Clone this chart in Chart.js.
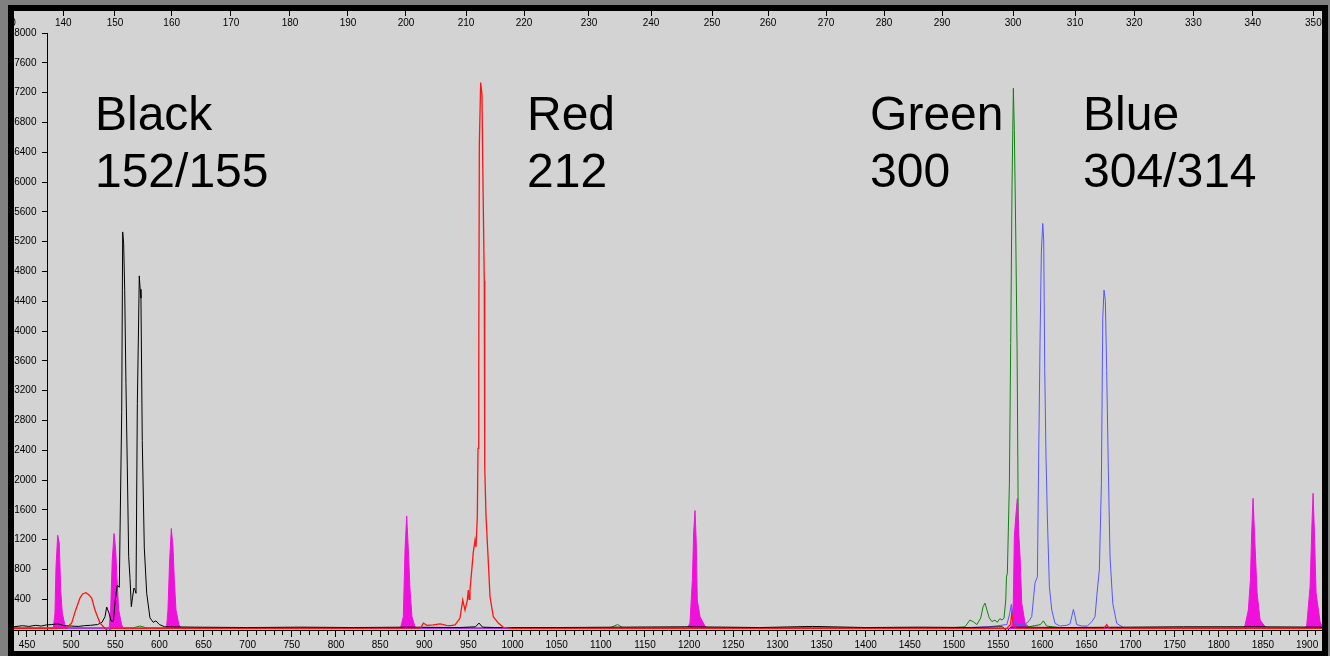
<!DOCTYPE html>
<html>
<head>
<meta charset="utf-8">
<title>Electropherogram</title>
<script src="https://cdn.jsdelivr.net/npm/chart.js@4.4.1/dist/chart.umd.min.js"></script>
<style>
  html, body { margin: 0; padding: 0; }
  body { width: 1330px; height: 656px; background: #808080; overflow: hidden; position: relative; }
  #frame {
    position: absolute; left: 8px; top: 5px;
    width: 1308px; height: 640px;
    border: 6px solid #000;
    background: #d3d3d3;
  }
  #trace { display: block; }
</style>
</head>
<body>
<div id="frame"><canvas id="trace" width="1308" height="640"></canvas></div>
<script>
// scan range shown and size ladder on the top axis
const scanMin = 435.3;
const scanMax = 1916.9;
const sizeLabels = [130, 140, 150, 160, 170, 180, 190, 200, 210, 220, 230, 240, 250, 260, 270, 280, 290, 300, 310, 320, 330, 340, 350];
const sizeScans = [428, 491.1, 549.7, 613.9, 681.1, 747.9, 813.6, 879.3, 947.3, 1013.0, 1086.6, 1156.9, 1226.0, 1289.4, 1355.1, 1420.8, 1486.5, 1566.9, 1637.2, 1704.3, 1771.2, 1838.5, 1907.1];

// peak captions
const peakNames = ["Black", "Red", "Green", "Blue"];
const peakSizes = ["152/155", "212", "300", "304/314"];
const labelScans = [527, 1016.4, 1405, 1646.2];

// black dye
const blackScan = [435, 445, 452, 460, 466, 472, 478, 485, 492, 500, 508, 515, 522, 530, 535, 538.4, 540.3, 542.9, 545.2, 547.8, 550, 552.3, 554.6, 555.4, 557.3, 558.4, 559.5, 560.7, 562.1, 563.6, 565.2, 566.7, 568.2, 569.5, 571.2, 572.5, 573.5, 575, 576.3, 577.2, 578.2, 579.1, 580.6, 582.9, 585.6, 589.3, 593, 596, 600, 606, 640, 700, 760, 820, 880, 940, 958, 962, 966, 980, 1050, 1120, 1200, 1280, 1340, 1400, 1460, 1520, 1555, 1560, 1564, 1575, 1620, 1700, 1760, 1840, 1917];
const blackRfu = [30, 45, 35, 50, 40, 55, 60, 70, 45, 40, 35, 45, 50, 60, 90, 165, 295, 214, 110, 100, 389, 590, 560, 1290, 2910, 5330, 5180, 4540, 3300, 2200, 970, 680, 300, 420, 550, 520, 480, 3030, 4000, 4740, 4560, 4440, 2530, 1090, 480, 150, 90, 110, 60, 30, 25, 20, 25, 20, 25, 20, 30, 80, 25, 20, 20, 25, 30, 20, 35, 20, 25, 20, 30, -30, 20, 25, 20, 25, 30, 30, 25];

// red dye
const redScan = [435, 480, 495, 500.6, 505, 510, 513, 516.8, 520, 523.3, 527, 532.7, 538, 542, 546, 600, 700, 800, 890, 896, 899, 903, 910, 918, 925, 930, 935, 940.5, 943.6, 946.2, 948.8, 949.9, 950.8, 951.8, 953.8, 955.6, 957.5, 958.6, 960.1, 960.9, 961.7, 962.4, 963.9, 965.4, 966.2, 968.0, 968.5, 970.0, 971.9, 974.5, 978.2, 983.9, 989.6, 1000, 1200, 1400, 1560, 1564, 1565.5, 1567, 1570, 1670, 1673, 1676, 1917];
const redRfu = [10, 10, 15, 80, 250, 415, 470, 487, 460, 415, 255, 80, 13, -25, 10, 10, 10, 10, 12, 15, 80, 50, 55, 70, 50, 45, 55, 147, 389, 255, 389, 523, 400, 523, 790, 1036, 1190, 1100, 1500, 2425, 3470, 6500, 7334, 7178, 6285, 4677, 2170, 1505, 1058, 433, 165, 80, 23, 10, 10, 10, 10, 60, 214, 80, 10, 10, 60, 10, 10];

// green dye
const greenScan = [435, 570, 578, 586, 700, 1110, 1119, 1125, 1500, 1512.6, 1518, 1522, 1526, 1530.3, 1533, 1535.2, 1537.5, 1540, 1543, 1546.5, 1549, 1552, 1554.5, 1556.7, 1558.7, 1559.5, 1560.5, 1562.8, 1564.3, 1565.8, 1567.3, 1568.4, 1570, 1571.5, 1572.8, 1574.2, 1576, 1578.6, 1585, 1598, 1601.3, 1605, 1620, 1917];
const greenRfu = [15, 15, 40, 15, 15, 15, 60, 15, 20, 30, 120, 98, 60, 147, 300, 348, 250, 150, 100, 120, 90, 140, 120, 147, 390, 700, 750, 1956, 3830, 5950, 7258, 6690, 5315, 3775, 1500, 400, 200, 80, 30, 60, 110, 40, 20, 15];

// blue dye
const blueScan = [435, 1500, 1540, 1560, 1563, 1565, 1567, 1570, 1580, 1584.3, 1588.1, 1591.8, 1594.5, 1596, 1597.5, 1599, 1600.6, 1601.7, 1602.8, 1604.3, 1605.8, 1608.1, 1610.8, 1614.5, 1620, 1628, 1631.5, 1635.3, 1637, 1639, 1645, 1651, 1656.1, 1659.8, 1662.4, 1664.7, 1667, 1668.6, 1670, 1671.5, 1673, 1674.9, 1676.8, 1679.9, 1684.4, 1692, 1917];
const blueRfu = [15, 15, 30, 60, 200, 330, 150, 60, 60, 98, 165, 616, 701, 2309, 3850, 5057, 5444, 5222, 3500, 2309, 1505, 567, 255, 76, 40, 50, 70, 263, 180, 60, 40, 40, 98, 165, 523, 790, 1956, 4186, 4550, 4410, 3470, 2130, 970, 344, 76, 20, 15];

// size standard (magenta, filled)
const stdScan = [435, 479.8, 481.7, 482.9, 484.8, 486.6, 488.2, 490, 493, 496, 543, 544.8, 546.6, 548.6, 550.5, 552, 553.9, 557.3, 560, 608, 609.7, 611.6, 613.5, 615.4, 616.9, 618.8, 622.2, 625, 873, 876.3, 878.2, 880.1, 882, 883.9, 886.1, 889.5, 892, 1198, 1201, 1203.7, 1205.2, 1206.7, 1208, 1209.3, 1212.4, 1218, 1221, 1563, 1566, 1567.3, 1568.4, 1570, 1571.8, 1573.3, 1574.9, 1576.8, 1580.5, 1584, 1828, 1829.7, 1833.5, 1835.8, 1837.3, 1838.8, 1841.1, 1843.4, 1846.8, 1852.5, 1855, 1898, 1899.6, 1903.4, 1905.5, 1906.8, 1908.3, 1910.2, 1914.7, 1917];
const stdRfu = [5, 5, 214, 835, 1260, 1152, 523, 214, 54, 5, 5, 255, 925, 1282, 1058, 657, 255, 54, 5, 5, 255, 925, 1349, 1100, 657, 255, 54, 5, 5, 165, 1058, 1518, 1058, 523, 165, 31, 5, 5, 80, 657, 1300, 1590, 1200, 389, 165, 40, 5, 5, 60, 389, 1237, 1500, 1751, 1300, 970, 348, 80, 5, 5, 50, 255, 657, 1300, 1755, 1100, 482, 120, 30, 5, 5, 50, 567, 1400, 1822, 1300, 482, 98, 30];

const pairUp = (xs, ys) => xs.map((v, i) => ({ x: v, y: ys[i] }));

const scanTicks = [];
for (let s = 440; s <= 1910; s += 10) scanTicks.push(s);
const rfuTicks = [];
for (let r = 400; r <= 8000; r += 400) rfuTicks.push(r);

const tickFont = { family: '"Liberation Sans", Arial, sans-serif', size: 10 };

function noPad(scale) {
    scale.paddingLeft = 0;
    scale.paddingRight = 0;
    scale.paddingTop = 0;
    scale.paddingBottom = 0;
}

const captions = {
    id: "captions",
    afterDatasetsDraw(chart) {
        const { ctx, scales } = chart;
        ctx.save();
        ctx.font = '48px "Liberation Sans", Arial, sans-serif';
        ctx.fillStyle = "#000";
        ctx.textAlign = "left";
        ctx.textBaseline = "alphabetic";
        peakNames.forEach((name, i) => {
            const px = scales.x.getPixelForValue(labelScans[i]);
            ctx.fillText(name, px, scales.y.getPixelForValue(6700));
            ctx.fillText(peakSizes[i], px, scales.y.getPixelForValue(5936));
        });
        ctx.restore();
    }
};

const line = (label, xs, ys, color, order, extra) => Object.assign({
    label: label,
    data: pairUp(xs, ys),
    borderColor: color,
    backgroundColor: color,
    borderWidth: 1,
    pointRadius: 0,
    tension: 0,
    fill: false,
    order: order,
    xAxisID: "x",
    yAxisID: "y"
}, extra || {});

const traceChart = new Chart(document.getElementById("trace"), {
    type: "line",
    data: {
        datasets: [
            line("Red", redScan, redRfu, "rgb(255, 20, 20)", 1, { borderWidth: 1.3 }),
            line("Black", blackScan, blackRfu, "rgb(0, 0, 0)", 2),
            line("Blue", blueScan, blueRfu, "rgb(85, 85, 255)", 3),
            line("Standard", stdScan, stdRfu, "rgb(240, 16, 220)", 4, { fill: "origin" }),
            line("Green", greenScan, greenRfu, "rgb(16, 128, 16)", 5)
        ]
    },
    options: {
        responsive: false,
        animation: false,
        devicePixelRatio: 1,
        layout: { padding: { top: 22, left: 0, right: 0, bottom: 0 } },
        plugins: { legend: { display: false }, tooltip: { enabled: false } },
        scales: {
            x: {
                type: "linear",
                position: "bottom",
                min: scanMin,
                max: scanMax,
                afterBuildTicks: (s) => { s.ticks = scanTicks.map(v => ({ value: v })); },
                afterFit: (s) => { s.height = 21; noPad(s); },
                border: { display: true, color: "#000", width: 1 },
                grid: {
                    drawOnChartArea: false,
                    tickLength: 7,
                    tickColor: "#000",
                    tickBorderDash: (c) => (c.tick && c.tick.value % 50 === 0) ? [] : [4, 20]
                },
                ticks: {
                    autoSkip: false,
                    maxRotation: 0,
                    padding: 2,
                    color: "#000",
                    font: tickFont,
                    callback: (v) => (v % 50 === 0 ? String(v) : "")
                }
            },
            size: {
                type: "linear",
                axis: "x",
                position: { y: 8295 },
                min: scanMin,
                max: scanMax,
                afterBuildTicks: (s) => { s.ticks = sizeScans.map(v => ({ value: v })); },
                afterFit: noPad,
                border: { display: false },
                grid: { drawOnChartArea: false, tickLength: 5, tickColor: "#000" },
                ticks: {
                    autoSkip: false,
                    maxRotation: 0,
                    padding: 1,
                    color: "#000",
                    font: tickFont,
                    callback: (v, i) => String(sizeLabels[i])
                }
            },
            y: {
                type: "linear",
                position: { x: 472.7 },
                min: -13,
                max: 8000,
                afterBuildTicks: (s) => { s.ticks = rfuTicks.map(v => ({ value: v })); },
                afterFit: noPad,
                border: { display: true, color: "#000", width: 1 },
                grid: { drawOnChartArea: false, tickLength: 5, tickColor: "#000" },
                ticks: {
                    color: "#000",
                    font: tickFont,
                    callback: (v) => String(v).padEnd(4, "\u2007") + "\u2007\u2002"
                }
            }
        }
    },
    plugins: [captions]
});
</script>
</body>
</html>
